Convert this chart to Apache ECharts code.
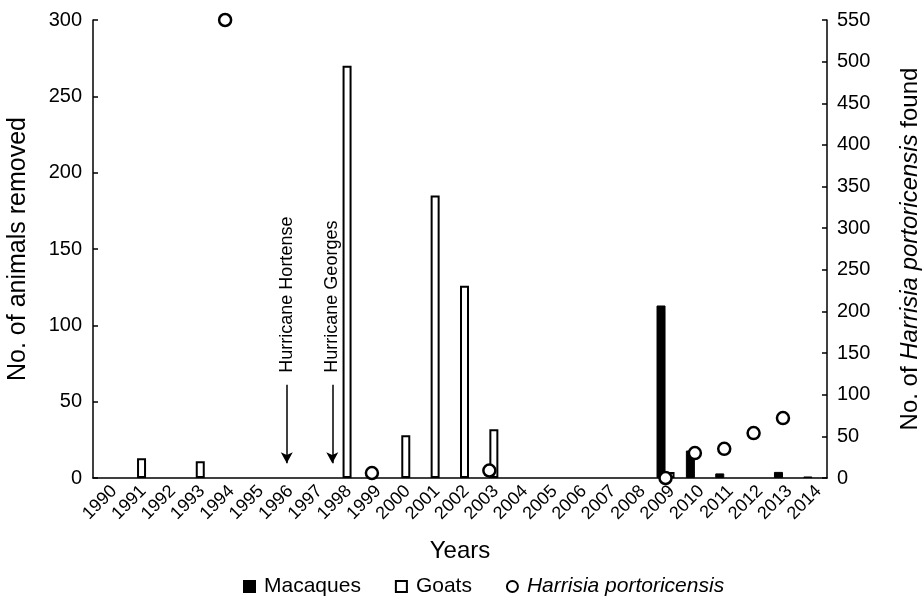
<!DOCTYPE html>
<html>
<head>
<meta charset="utf-8">
<script src="https://cdn.jsdelivr.net/npm/echarts@6/dist/echarts.min.js"></script>
<style>html,body{margin:0;padding:0;background:#fff;}#c{width:922px;height:599px;}</style>
</head>
<body>
<div id="c"></div>
<script>
var years = ['1990','1991','1992','1993','1994','1995','1996','1997','1998','1999','2000','2001','2002','2003','2004','2005','2006','2007','2008','2009','2010','2011','2012','2013','2014'];
var macaques = [null,null,null,null,null,null,null,null,null,null,null,null,null,null,null,null,null,null,null,113,18,3,null,4,1];
var goats = [null,13,null,11,null,null,null,null,270,null,28,185,126,32,null,null,null,null,null,4,null,null,null,null,null];
var harrisia = [null,null,null,null,550,null,null,null,null,6,null,null,null,9,null,null,null,null,null,0,30,35,54,72,null];
var leftTicks = [0, 300, 50];
var rightTicks = [0, 550, 50];
var hurricanes = [[1996.6, 69, 'Hurricane Hortense'], [1998.15, 69, 'Hurricane Georges']];
var arrowTop = 61, arrowTip = 9.6;

var FONT = 'Liberation Sans';
var chart = echarts.init(document.getElementById('c'));
var arrowLines = hurricanes.map(function (h) {
  return [{ coord: [h[0], arrowTop] }, { coord: [h[0], arrowTip] }];
});
chart.setOption({
  animation: false,
  textStyle: { fontFamily: FONT, color: '#000' },
  grid: { left: 93, right: 95, top: 20, bottom: 121, containLabel: false, outerBoundsMode: 'none' },
  legend: {
    top: 571, left: 238,
    data: [
      { name: 'Macaques', icon: 'rect' },
      { name: 'Goats', icon: 'rect' },
      { name: 'Harrisia portoricensis', icon: 'circle' }
    ],
    itemWidth: 11, itemHeight: 11, itemGap: 34,
    textStyle: { fontSize: 21, fontFamily: FONT, color: '#000', padding: [0, 0, 0, 4],
      rich: { i: { fontStyle: 'italic', fontSize: 21, fontFamily: FONT, color: '#000' } } },
    formatter: function (n) { return n === 'Harrisia portoricensis' ? '{i|' + n + '}' : n; }
  },
  xAxis: [{
    type: 'category', data: years, boundaryGap: true,
    name: 'Years', nameLocation: 'middle', nameGap: 61,
    nameTextStyle: { fontSize: 24, fontFamily: FONT, color: '#000' },
    axisLine: { lineStyle: { color: '#000', width: 1.5 } },
    axisTick: { inside: true, length: 5, interval: 0, lineStyle: { color: '#000', width: 1.5 } },
    axisLabel: { rotate: 45, fontSize: 18, margin: 4, verticalAlign: 'top', color: '#000', interval: 0, fontFamily: FONT },
    splitLine: { show: false }
  }, {
    type: 'value', min: 1990, max: 2015, show: false
  }],
  yAxis: [{
    type: 'value', min: leftTicks[0], max: leftTicks[1], interval: leftTicks[2],
    name: 'No. of animals removed', nameLocation: 'middle', nameGap: 62, nameRotate: 90,
    nameTextStyle: { fontSize: 25, fontFamily: FONT, color: '#000' },
    axisLine: { show: true, lineStyle: { color: '#000', width: 1.5 } },
    axisTick: { show: true, inside: true, length: 5, lineStyle: { color: '#000', width: 1.5 } },
    axisLabel: { fontSize: 20, margin: 11, color: '#000', fontFamily: FONT },
    splitLine: { show: false }
  }, {
    type: 'value', min: rightTicks[0], max: rightTicks[1], interval: rightTicks[2], position: 'right',
    name: '{n|No. of }{i|Harrisia portoricensis}{n| found}', nameLocation: 'middle', nameGap: 71, nameRotate: 90,
    nameTextStyle: { fontSize: 24, fontFamily: FONT, color: '#000',
      rich: { n: { fontSize: 24, fontFamily: FONT, color: '#000' },
              i: { fontSize: 24, fontFamily: FONT, color: '#000', fontStyle: 'italic' } } },
    axisLine: { show: true, lineStyle: { color: '#000', width: 1.5 } },
    axisTick: { show: true, inside: true, length: 5, lineStyle: { color: '#000', width: 1.5 } },
    axisLabel: { fontSize: 20, margin: 10, color: '#000', fontFamily: FONT },
    splitLine: { show: false }
  }],
  series: [{
    name: 'Macaques', type: 'bar', data: macaques, barWidth: 9, barGap: '0%',
    itemStyle: { color: '#000', borderColor: '#000', borderWidth: 1 }
  }, {
    name: 'Goats', type: 'bar', data: goats, barWidth: 9, barGap: '0%',
    itemStyle: { color: '#fff', borderColor: '#000', borderWidth: 2 }
  }, {
    name: 'Harrisia portoricensis', type: 'scatter', yAxisIndex: 1, data: harrisia,
    symbol: 'circle', symbolSize: 12, z: 5,
    itemStyle: { color: '#fff', borderColor: '#000', borderWidth: 2.5, opacity: 1 }
  }, {
    name: 'hurricanes', type: 'scatter', xAxisIndex: 1, yAxisIndex: 0,
    data: hurricanes, symbolSize: 0, silent: true,
    label: { show: true, position: 'inside', align: 'left', verticalAlign: 'middle', rotate: 90,
      fontSize: 18, fontFamily: FONT, color: '#000', textBorderWidth: 0, opacity: 1,
      formatter: function (p) { return p.value[2]; } },
    markLine: {
      silent: true, symbol: ['none', 'arrow'], symbolSize: [9, 11],
      lineStyle: { color: '#000', width: 1.5, type: 'solid' },
      label: { show: false },
      data: arrowLines
    }
  }]
});
</script>
</body>
</html>
